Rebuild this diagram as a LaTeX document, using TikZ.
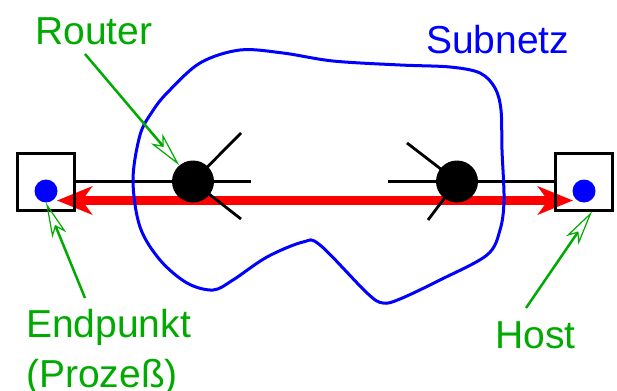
\documentclass[tikz,border=0pt]{standalone}
\usepackage{fontspec}
\setmainfont{Liberation Sans}
\usetikzlibrary{arrows.meta}
\definecolor{lblgreen}{RGB}{0,170,0}
\begin{document}
\begin{tikzpicture}[x=1pt,y=-1pt,
  hostbox/.style={draw=black,line width=3pt,minimum size=57pt,inner sep=0pt},
  epdot/.style={circle,fill=blue,minimum size=23pt,inner sep=0pt},
  routernode/.style={circle,fill=black,minimum size=42pt,inner sep=0pt},
  wire/.style={draw=black,line width=2.8pt},
  lbl/.style={text=lblgreen,font=\fontsize{39}{50}\selectfont,inner sep=0pt},
  netlbl/.style={text=blue,font=\fontsize{39}{50}\selectfont,inner sep=0pt},
  pointer/.style={draw=lblgreen,line width=2.5pt,-{Stealth[open,length=35pt,width=15pt,inset=9pt,line width=1.2pt]}},
  flow/.style={draw=red,line width=9pt,{Stealth[length=35pt,width=28pt,inset=10pt]}-{Stealth[length=35pt,width=28pt,inset=10pt]}},
  net/.style={draw=blue,line width=3pt}
]
\useasboundingbox (0,0) rectangle (617,390);

% red flow arrow
\coordinate (fl) at (57,200.5);
\coordinate (fr) at (573,200.5);
\draw[flow] (fl) -- (fr);

% hosts
\node[hostbox] (lbox) at (46,181.5) {};
\node[hostbox] (rbox) at (583.5,181.5) {};
\node[epdot] (ldot) at (46,191) {};
\node[epdot] (rdot) at (584,191) {};

% routers
\coordinate (r1e) at (251,181.5);
\coordinate (r1u) at (241,133);
\coordinate (r1d) at (241,219);
\coordinate (r2w) at (388,181.5);
\coordinate (r2u) at (407,143);
\coordinate (r2d) at (428,220);
\node[routernode] (r1) at (193,181.5) {};
\node[routernode] (r2) at (457,181.5) {};
\draw[wire] (lbox.east) -- (r1e);
\draw[wire] (r1.center) -- (r1u);
\draw[wire] (r1.center) -- (r1d);
\draw[wire] (rbox.west) -- (r2w);
\draw[wire] (r2.center) -- (r2u);
\draw[wire] (r2.center) -- (r2d);

% subnet blob
\draw[net] plot[smooth cycle, tension=0.55] coordinates {
  (240,50) (283,53) (333,61) (400,65) (450,67) (480,73) (495,88) (501,110)
  (502,150) (504,200) (500,230) (487,255) (440,280) (400,299) (383,303)
  (367,293) (320,245) (303,242) (267,257) (233,280) (213,290) (187,283)
  (160,260) (140,227) (133,180) (140,135) (152,112) (167,93) (200,63)};

% labels
\node[netlbl,anchor=base west] (subnet) at (426,54) {Subnetz};
\node[lbl,anchor=base west] (router) at (35,45) {Router};
\node[lbl,anchor=base west] (endp) at (26,337) {\begin{tabular}[t]{@{}l@{}}Endpunkt\\(Prozeß)\end{tabular}};
\node[lbl,anchor=base west] (host) at (495,348) {Host};

% pointers
\coordinate (rs) at (85,54);
\coordinate (es) at (85,298);
\coordinate (hs) at (526,308);
\draw[pointer] (rs) -- (r1);
\draw[pointer] (es) -- (ldot.south);
\draw[pointer] (hs) -- ([xshift=8.5pt]rbox.south);
\end{tikzpicture}
\end{document}
